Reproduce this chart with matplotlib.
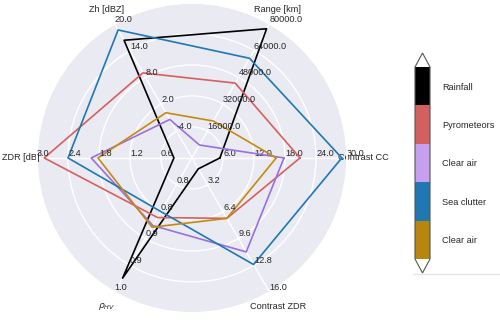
import numpy as np
import matplotlib
matplotlib.use("Agg")
import matplotlib.pyplot as plt
import seaborn as sns
from matplotlib.colors import ListedColormap, BoundaryNorm
from matplotlib.lines import Line2D

variables = ["Contrast CC", "Range [km]", "Zh [dBZ]", "ZDR [dB]", r"$\rho_{HV}$", "Contrast ZDR"]
ranges = [(0, 30), (0, 80000), (-10, 20), (0, 3.0), (0.75, 1.0), (0, 16)]

# one row per class, same order as variables
rainfall = [5.4, 77000, 16.3, 0.35, 0.974, 1.3]
pyrometeors = [20.9, 44600, 9.0, 2.86, 0.861, 7.2]
clear_air_a = [17.8, 7700, -1.4, 1.95, 0.876, 11.2]
sea_clutter = [29.0, 59400, 18.6, 2.4, 0.85, 12.7]
clear_air_b = [16.3, 22000, 0.1, 1.82, 0.879, 7.2]

class_names = ["Rainfall", "Pyrometeors", "Clear air", "Sea clutter", "Clear air"]
line_colors = ["black", "#d65f5f", "#9a6fe0", "#1f77b4", "#c48a10"]
bar_colors = ["black", "#d45f5f", "#c79fef", "#1f77b4", "#b8860b"]

sns.set_theme(style="darkgrid")
plt.rcParams.update({
    "font.family": ["Liberation Sans", "DejaVu Sans"],
    "font.size": 6.6,
    "xtick.labelsize": 6.6,
    "ytick.labelsize": 6.6,
})


def scale_data(values):
    # map every variable onto the range of the first axis
    lo0, hi0 = ranges[0]
    out = []
    for v, (lo, hi) in zip(values, ranges):
        out.append((v - lo) / (hi - lo) * (hi0 - lo0) + lo0)
    return out


fig = plt.figure(figsize=(5, 3.22), dpi=100)
angles = np.arange(0, 360, 360 / len(variables))
rect = [0.074, 0.028, 0.62, 0.963]
axes = [fig.add_axes(rect, polar=True, label=f"ax{i}") for i in range(len(variables))]

axes[0].set_thetagrids(angles, labels=variables)
axes[0].tick_params(axis="x", pad=-1)
for ax in axes[1:]:
    ax.patch.set_visible(False)
    ax.grid(False)
    ax.xaxis.set_visible(False)
    ax.spines["polar"].set_visible(False)

for i, ax in enumerate(axes):
    grid = np.linspace(*ranges[i], num=6)
    labels = [f"{g:.1f}" for g in grid]
    labels[0] = ""
    ax.set_rgrids(grid, labels=labels, angle=angles[i])
    ax.set_ylim(*ranges[i])

theta = np.deg2rad(np.r_[angles, angles[0]])
for data, color in zip([rainfall, pyrometeors, clear_air_a, sea_clutter, clear_air_b], line_colors):
    s = scale_data(data)
    axes[0].plot(theta, np.r_[s, s[0]], color=color, lw=1.2)

# class colorbar
cmap = ListedColormap(bar_colors[::-1])
cmap.set_under("white")
cmap.set_over("white")
norm = BoundaryNorm(np.arange(len(class_names) + 1), cmap.N)
cax = fig.add_axes([415 / 500, 1 - 273 / 322, 15 / 500, 220 / 322])
sm = plt.cm.ScalarMappable(norm=norm, cmap=cmap)
cb = fig.colorbar(sm, cax=cax, extend="both", extendfrac=0.073,
                  ticks=np.arange(len(class_names)) + 0.5)
cb.set_ticklabels(class_names[::-1])
cb.minorticks_off()
cb.ax.grid(False)
cb.ax.tick_params(which="both", length=0, pad=8.6)
cb.outline.set_edgecolor("#555555")
cb.outline.set_linewidth(0.8)

fig.add_artist(Line2D([413 / 500, 1.0], [1 - 274 / 322] * 2, transform=fig.transFigure,
                      color="#e6e6e6", lw=1))

fig.savefig("out.png", dpi=100)
